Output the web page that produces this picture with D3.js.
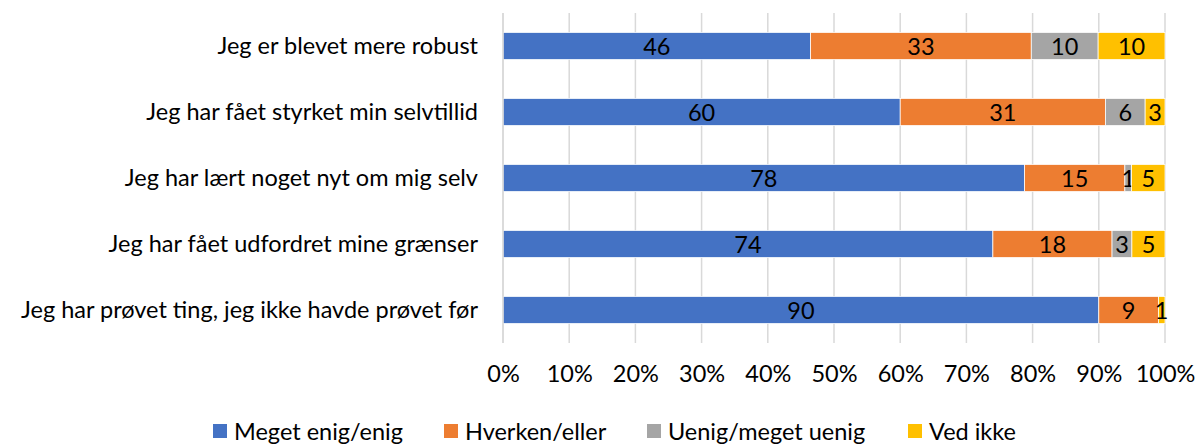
<!DOCTYPE html>
<html>
<head>
<meta charset="utf-8">
<script src="https://cdn.jsdelivr.net/npm/d3@7"></script>
<style>
  body { margin: 0; background: #fff; }
  svg text { font-family: Lato, "Open Sans", sans-serif; fill: #000; }
</style>
</head>
<body>
<div id="chart"></div>
<script>
// --- data ---
const categories = [
  "Jeg er blevet mere robust",
  "Jeg har fået styrket min selvtillid",
  "Jeg har lært noget nyt om mig selv",
  "Jeg har fået udfordret mine grænser",
  "Jeg har prøvet ting, jeg ikke havde prøvet før"
];
const seriesNames = ["Meget enig/enig", "Hverken/eller", "Uenig/meget uenig", "Ved ikke"];
const agree    = [46, 60, 78, 74, 90];
const neither  = [33, 31, 15, 18, 9];
const disagree = [10, 6, 1, 3, 0];
const dontKnow = [10, 3, 5, 5, 1];
const tickValues = [0, 0.1, 0.2, 0.3, 0.4, 0.5, 0.6, 0.7, 0.8, 0.9, 1];
const colors = ["#4472C4", "#ED7D31", "#A5A5A5", "#FFC000"];

// table for d3.stack
const keys = ["agree", "neither", "disagree", "dontKnow"];
const rows = categories.map((c, i) => ({
  cat: c, agree: agree[i], neither: neither[i], disagree: disagree[i], dontKnow: dontKnow[i]
}));

// sizing
const W = 1200, H = 444;
const margin = { top: 13, right: 35, bottom: 101, left: 503 };
const width = W - margin.left - margin.right;
const height = H - margin.top - margin.bottom;
const fs = 23.5, fw = 400;

const svg = d3.select("#chart").append("svg").attr("width", W).attr("height", H);
const g = svg.append("g").attr("transform", `translate(${margin.left},${margin.top})`);

const x = d3.scaleLinear().domain([0, 1]).range([0, width]);
const y = d3.scaleBand().domain(categories).range([0, height]).paddingInner(0.59).paddingOuter(0.295);
const color = d3.scaleOrdinal().domain(keys).range(colors);

// gridlines
g.append("g").selectAll("line").data(tickValues).join("line")
  .attr("x1", d => x(d)).attr("x2", d => x(d))
  .attr("y1", 0).attr("y2", height)
  .attr("stroke", "#d9d9d9").attr("stroke-width", 1.5);

// stacked bars (normalized to 100%)
const stacked = d3.stack().keys(keys).offset(d3.stackOffsetExpand)(rows);

const layers = g.append("g").selectAll("g").data(stacked).join("g")
  .attr("fill", d => color(d.key));

layers.selectAll("rect").data(d => d.map(v => ({ v, key: d.key }))).join("rect")
  .attr("x", d => x(d.v[0]))
  .attr("y", d => y(d.v.data.cat))
  .attr("width", d => Math.max(0, x(d.v[1]) - x(d.v[0])))
  .attr("height", y.bandwidth())
  .attr("stroke", "#fff").attr("stroke-width", 0.75);

// data labels
layers.selectAll("text").data(d => d.map(v => ({ v, key: d.key })).filter(d => d.v.data[d.key] > 0)).join("text")
  .attr("x", d => (x(d.v[0]) + x(d.v[1])) / 2)
  .attr("y", d => y(d.v.data.cat) + y.bandwidth() / 2)
  .attr("text-anchor", "middle").attr("dominant-baseline", "central")
  .attr("font-size", fs).attr("font-weight", fw)
  .text(d => d.v.data[d.key]);

// category axis
const yAxis = g.append("g").call(d3.axisLeft(y).tickSize(0).tickPadding(25));
yAxis.select(".domain").remove();
yAxis.selectAll("text").attr("font-size", fs).attr("font-weight", fw).attr("fill", "#000")
  .style("font-family", "Lato, 'Open Sans', sans-serif");

// left axis line
g.append("line").attr("x1", 0).attr("x2", 0).attr("y1", 0).attr("y2", height)
  .attr("stroke", "#d9d9d9").attr("stroke-width", 1.5);

// value axis
const xAxis = g.append("g").attr("transform", `translate(0,${height})`)
  .call(d3.axisBottom(x).tickValues(tickValues).tickFormat(d3.format(".0%")).tickSize(0).tickPadding(22));
xAxis.select(".domain").remove();
xAxis.selectAll("text").attr("font-size", fs).attr("font-weight", fw).attr("fill", "#000")
  .style("font-family", "Lato, 'Open Sans', sans-serif");

// legend
const legendX = [213, 444, 647, 908];
const legend = svg.append("g").selectAll("g").data(seriesNames).join("g")
  .attr("transform", (d, i) => `translate(${legendX[i]},431)`);
legend.append("rect").attr("x", 0).attr("y", -7).attr("width", 14).attr("height", 14)
  .attr("fill", (d, i) => colors[i]);
legend.append("text").attr("x", 21).attr("y", 0).attr("dominant-baseline", "central")
  .attr("font-size", fs).attr("font-weight", fw).text(d => d);
</script>
</body>
</html>
